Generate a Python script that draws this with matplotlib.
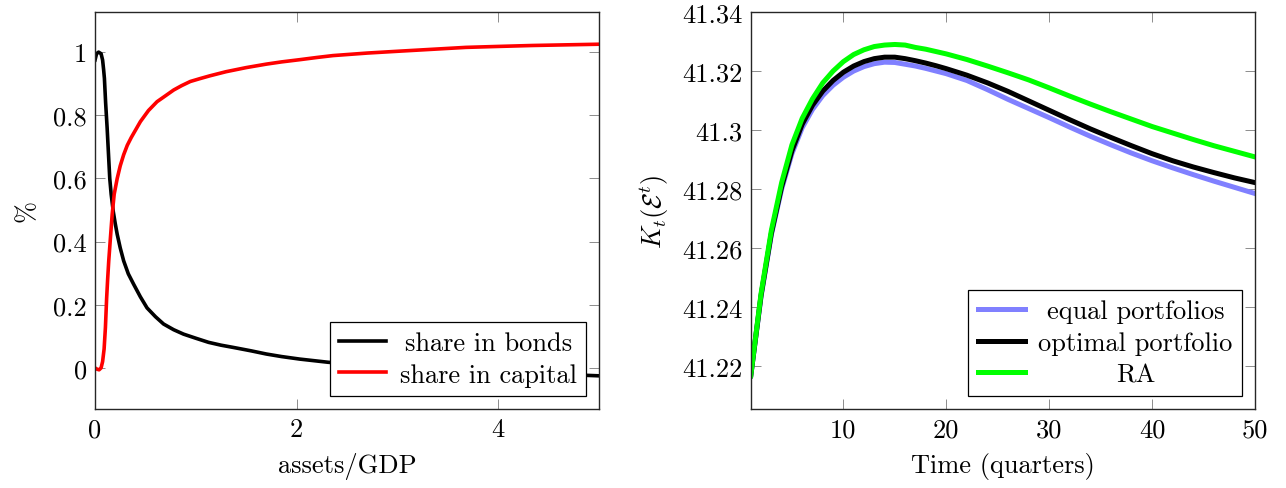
"""Portfolio shares and capital response, two panels"""
import numpy as np
import matplotlib
matplotlib.use('Agg')
import matplotlib.pyplot as plt
from matplotlib.ticker import FuncFormatter

plt.rcParams['font.family'] = ['cmr10', 'DejaVu Serif']
plt.rcParams['mathtext.fontset'] = 'cm'
plt.rcParams['axes.formatter.use_mathtext'] = True
plt.rcParams['font.size'] = 19

#%% data
# left panel: portfolio shares against assets/GDP
bonds_x = [0, 0.015, 0.035, 0.06, 0.075, 0.085, 0.093, 0.105, 0.12, 0.133, 0.146, 0.16,
           0.18, 0.2, 0.22, 0.25, 0.284, 0.33, 0.383, 0.45, 0.516, 0.6, 0.68, 0.78,
           0.878, 1.0, 1.126, 1.25, 1.37, 1.55, 1.70, 1.85, 2.03, 2.31, 2.6, 3.0, 3.5,
           4.0, 4.5, 5.0]
bonds_y = [0.975, 0.995, 1.0, 0.995, 0.975, 0.945, 0.917, 0.84, 0.76, 0.68, 0.60, 0.55,
           0.497, 0.458, 0.423, 0.38, 0.339, 0.298, 0.265, 0.225, 0.19, 0.162, 0.139,
           0.121, 0.107, 0.094, 0.081, 0.072, 0.065, 0.054, 0.044, 0.036, 0.028, 0.018,
           0.010, 0.002, -0.006, -0.013, -0.019, -0.025]
capital_x = [0, 0.02, 0.04, 0.06, 0.075, 0.09, 0.103, 0.115, 0.125, 0.136, 0.15, 0.17,
             0.19, 0.22, 0.25, 0.284, 0.32, 0.36, 0.45, 0.53, 0.615, 0.7, 0.78, 0.86,
             0.945, 1.04, 1.14, 1.3, 1.5, 1.70, 1.85, 2.03, 2.2, 2.36, 2.7, 3.02, 3.35,
             3.68, 4.0, 4.34, 4.67, 5.0]
capital_y = [0.0, -0.004, -0.006, 0.0, 0.02, 0.06, 0.128, 0.22, 0.28, 0.339, 0.40, 0.486,
             0.55, 0.60, 0.64, 0.675, 0.705, 0.73, 0.78, 0.815, 0.843, 0.862, 0.88, 0.894,
             0.907, 0.916, 0.925, 0.938, 0.951, 0.962, 0.969, 0.976, 0.983, 0.989, 0.997,
             1.003, 1.009, 1.015, 1.018, 1.021, 1.023, 1.025]

# right panel: capital path over time
quarters = [1, 2, 3, 4, 5, 6, 7, 8, 9, 10, 11, 12, 13, 14, 15, 16, 17, 18, 19, 20,
            22, 24, 26, 28, 30, 32, 34, 36, 38, 40, 42, 44, 46, 48, 50]
k_equal = [41.2168, 41.2436, 41.2645, 41.2800, 41.2920, 41.3008, 41.3070, 41.3117,
           41.3152, 41.3179, 41.3200, 41.3215, 41.3225, 41.3230, 41.3229, 41.3223,
           41.3217, 41.3209, 41.3200, 41.3191, 41.3168, 41.3137, 41.3104, 41.3073,
           41.3042, 41.3010, 41.2979, 41.2950, 41.2922, 41.2896, 41.2872, 41.2849,
           41.2827, 41.2806, 41.2785]
k_optimal = [41.2168, 41.2440, 41.2650, 41.2808, 41.2930, 41.3020, 41.3084, 41.3132,
             41.3168, 41.3196, 41.3217, 41.3232, 41.3242, 41.3247, 41.3247, 41.3242,
             41.3235, 41.3227, 41.3218, 41.3208, 41.3186, 41.3160, 41.3131, 41.3099,
             41.3067, 41.3035, 41.3004, 41.2975, 41.2947, 41.2920, 41.2896, 41.2875,
             41.2856, 41.2838, 41.2822]
k_ra = [41.2168, 41.2446, 41.2660, 41.2822, 41.2950, 41.3040, 41.3106, 41.3160,
        41.3200, 41.3232, 41.3256, 41.3272, 41.3283, 41.3288, 41.3290, 41.3288,
        41.3280, 41.3274, 41.3266, 41.3258, 41.3239, 41.3217, 41.3194, 41.3170,
        41.3143, 41.3115, 41.3088, 41.3062, 41.3037, 41.3012, 41.2990, 41.2968,
        41.2947, 41.2928, 41.2909]

left_xticks = [0, 2, 4]
left_yticks = [0, 0.2, 0.4, 0.6, 0.8, 1]
right_xticks = [10, 20, 30, 40, 50]
right_yticks = [41.22, 41.24, 41.26, 41.28, 41.30, 41.32, 41.34]


def style_axes(ax):
    """pgfplots look: inner grey ticks on all four sides"""
    ax.tick_params(direction='in', length=7.5, width=0.7, color='0.55',
                   top=True, right=True, labelsize=19, pad=6)
    for s in ax.spines.values():
        s.set_linewidth(1.0)
        s.set_color('0.15')
    ax.xaxis.set_major_formatter(FuncFormatter(lambda v, p: '%g' % round(v, 4)))
    ax.yaxis.set_major_formatter(FuncFormatter(lambda v, p: '%g' % round(v, 4)))


def center_legend_text(fig, leg):
    """center entries the way pgfplots does"""
    fig.canvas.draw()
    texts = leg.get_texts()
    widths = [t.get_window_extent().width for t in texts]
    wmax = max(widths)
    for t, w in zip(texts, widths):
        t.set_x((wmax - w) / 2)


def add_legend(ax):
    leg = ax.legend(loc='lower right', fancybox=False, edgecolor='black', framealpha=1,
                    handlelength=1.8, handletextpad=0.5, labelspacing=0.3,
                    borderpad=0.35, borderaxespad=0.5, fontsize=19)
    leg.get_frame().set_linewidth(0.9)
    return leg


fig = plt.figure(figsize=(12.86, 4.89), dpi=100)
ax1 = fig.add_axes([0.0739, 0.1616, 0.3919, 0.8118])
ax2 = fig.add_axes([0.5838, 0.1616, 0.3921, 0.8118])

#%% left panel
ax1.plot(bonds_x, bonds_y, color='black', lw=2.6, label='share in bonds')
ax1.plot(capital_x, capital_y, color='red', lw=2.6, label='share in capital')
ax1.set_xlim(0, 5)
ax1.set_ylim(-0.13, 1.127)
ax1.set_xticks(left_xticks)
ax1.set_yticks(left_yticks)
style_axes(ax1)
ax1.set_xlabel('assets/GDP', labelpad=8)
ax1.set_ylabel('%', labelpad=10)
leg1 = add_legend(ax1)

#%% right panel
ax2.plot(quarters, k_equal, color='#8080ff', lw=3.6, label='equal portfolios')
ax2.plot(quarters, k_optimal, color='black', lw=3.6, label='optimal portfolio')
ax2.plot(quarters, k_ra, color='#00ff00', lw=3.6, label='RA')
ax2.set_xlim(1, 50)
ax2.set_ylim(41.2055, 41.34)
ax2.set_xticks(right_xticks)
ax2.set_yticks(right_yticks)
style_axes(ax2)
ax2.set_xlabel('Time (quarters)', labelpad=8)
ax2.set_ylabel(r'$K_t(\mathcal{E}^t)$', labelpad=8)
leg2 = add_legend(ax2)

center_legend_text(fig, leg1)
center_legend_text(fig, leg2)

fig.savefig('out.png', dpi=100)
